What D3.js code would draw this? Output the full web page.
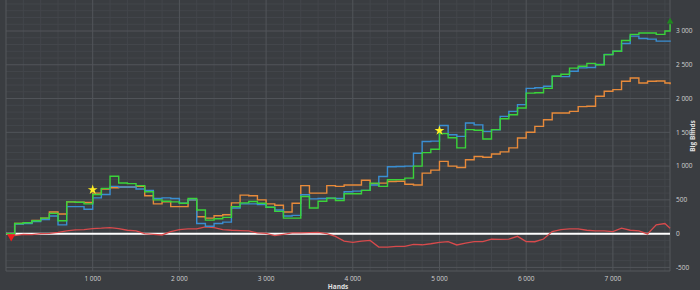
<!DOCTYPE html>
<html><head><meta charset="utf-8">
<script src="https://cdn.jsdelivr.net/npm/d3@7"></script>
<style>
html,body{margin:0;padding:0;background:#3a3d41;overflow:hidden;}
svg{display:block;}
text{font-family:"Open Sans","DejaVu Sans",sans-serif;}
</style></head>
<body><svg id="c" width="700" height="290"></svg>
<script>
// hands sampled every 100, last point 7660
const hands = [0,100,200,300,400,500,600,700,800,900,1000,1100,1200,1300,1400,1500,1600,1700,1800,1900,2000,2100,2200,2300,2400,2500,2600,2700,2800,2900,3000,3100,3200,3300,3400,3500,3600,3700,3800,3900,4000,4100,4200,4300,4400,4500,4600,4700,4800,4900,5000,5100,5200,5300,5400,5500,5600,5700,5800,5900,6000,6100,6200,6300,6400,6500,6600,6700,6800,6900,7000,7100,7200,7300,7400,7500,7600,7660];
const netWon = [0,150,160,190,230,300,190,470,465,440,580,670,850,750,740,710,620,500,480,470,450,520,350,200,220,240,400,455,475,450,390,330,230,230,550,380,480,525,490,590,590,640,748,700,797,800,822,1000,1200,1250,1480,1420,1270,1540,1530,1400,1540,1700,1760,1860,2080,2085,2150,2330,2360,2450,2478,2520,2500,2650,2700,2860,2950,2970,2970,2950,3000,3100];
const allInEV = [0,140,150,180,210,260,130,400,400,360,530,580,700,690,690,660,640,520,530,520,450,500,150,110,150,170,380,440,440,430,390,350,260,270,575,515,520,525,520,620,630,640,720,845,990,994,1000,1190,1365,1370,1600,1465,1440,1638,1610,1514,1539,1736,1810,1910,2150,2160,2182,2330,2325,2404,2454,2460,2503,2652,2700,2815,2924,2890,2880,2850,2850,2860];
const withoutShowdown = [0,150,160,195,230,320,290,470,465,460,600,660,680,690,690,700,560,440,470,400,400,500,250,230,265,280,455,570,560,500,440,420,320,450,710,600,600,710,700,720,720,790,740,748,772,775,730,720,896,940,1070,1000,980,1094,1143,1130,1180,1210,1270,1416,1500,1588,1687,1786,1786,1810,1880,1885,2033,2107,2132,2256,2305,2230,2256,2260,2230,2210];
const withShowdown = [0,-30,-10,-15,0,5,20,40,55,60,75,80,90,75,50,40,0,-10,-20,30,60,70,70,100,90,60,50,45,40,10,5,-30,-10,10,10,15,20,0,-40,-110,-130,-110,-100,-200,-200,-190,-190,-160,-165,-150,-130,-118,-168,-140,-118,-118,-80,-85,-80,-40,-118,-120,-80,30,60,70,70,50,40,40,30,80,50,40,-5,130,150,80];
const xTicks = [1000,2000,3000,4000,5000,6000,7000];
const yTicks = [-500,0,500,1000,1500,2000,2500,3000];
const starHands = [1000,5000];
const starValues = [650,1525];
const startMarker = [60,-45];
const endMarker = [7660,3140];
const seriesColors = {allInEV:"#3a8ed2", withoutShowdown:"#e88a3a", netWon:"#3ad33a", withShowdown:"#d84a4c"};

const svg = d3.select("#c");
const L = 6, R = 670, T = 0, B = 271;
const x = d3.scaleLinear().domain([0,7660]).range([6,670.1]);
const y = d3.scaleLinear().domain([-500,3000]).range([267.4,31.0]);

const fmt = v => d3.format(",")(v).replace(/,/g," ").replace("−","-");

// minor grid
const g = svg.append("g");
d3.range(200,7660,200).filter(v=>v%1000!==0).forEach(v=>{
  g.append("line").attr("x1",x(v)).attr("x2",x(v)).attr("y1",T).attr("y2",B).attr("stroke","#43464b").attr("stroke-width",1);
});
d3.range(-500,3500,100).filter(v=>v%500!==0).forEach(v=>{
  g.append("line").attr("x1",L).attr("x2",R).attr("y1",y(v)).attr("y2",y(v)).attr("stroke","#43464b").attr("stroke-width",1);
});
// major grid
xTicks.forEach(v=>{
  g.append("line").attr("x1",x(v)).attr("x2",x(v)).attr("y1",T).attr("y2",B).attr("stroke","#52555a").attr("stroke-width",1);
});
yTicks.forEach(v=>{
  g.append("line").attr("x1",L).attr("x2",R).attr("y1",y(v)).attr("y2",y(v)).attr("stroke","#52555a").attr("stroke-width",1);
});
// borders
g.append("line").attr("x1",L).attr("x2",L).attr("y1",T).attr("y2",B).attr("stroke","#55585d");
g.append("line").attr("x1",R).attr("x2",R).attr("y1",T).attr("y2",B).attr("stroke","#55585d");
g.append("line").attr("x1",L).attr("x2",R).attr("y1",B).attr("y2",B).attr("stroke","#55585d");

// zero line
svg.append("line").attr("x1",L).attr("x2",R).attr("y1",y(0)).attr("y2",y(0)).attr("stroke","#ffffff").attr("stroke-width",2);

const mk = (arr) => hands.map((h,i)=>[h,arr[i]]);
const stepLine = d3.line().x(d=>x(d[0])).y(d=>y(d[1])).curve(d3.curveStepAfter);
const linLine = d3.line().x(d=>x(d[0])).y(d=>y(d[1]));

svg.append("path").datum(mk(withShowdown)).attr("d",linLine).attr("fill","none").attr("stroke",seriesColors.withShowdown).attr("stroke-width",1.3);
svg.append("path").datum(mk(withoutShowdown)).attr("d",stepLine).attr("fill","none").attr("stroke",seriesColors.withoutShowdown).attr("stroke-width",1.4);
svg.append("path").datum(mk(allInEV)).attr("d",stepLine).attr("fill","none").attr("stroke",seriesColors.allInEV).attr("stroke-width",1.4);
svg.append("path").datum(mk(netWon)).attr("d",stepLine).attr("fill","none").attr("stroke",seriesColors.netWon).attr("stroke-width",1.4);

// markers
svg.append("path").attr("d",d3.symbol().type(d3.symbolTriangle).size(30)())
  .attr("transform",`translate(${x(startMarker[0])},${y(startMarker[1])}) rotate(180)`).attr("fill","#ee1c1c");
svg.append("path").attr("d",d3.symbol().type(d3.symbolTriangle).size(18)())
  .attr("transform",`translate(${x(endMarker[0])},${y(endMarker[1])})`).attr("fill","#1e8a1e");
starHands.forEach((h,i)=>{
  svg.append("path").attr("d",d3.symbol().type(d3.symbolStar).size(30)())
    .attr("transform",`translate(${x(h)},${y(starValues[i])})`).attr("fill","#ffee22");
});

// axes labels
xTicks.forEach(v=>{
  svg.append("text").attr("x",x(v)).attr("y",281).attr("text-anchor","middle").attr("font-size",6.5).attr("fill","#d0d0d0").text(fmt(v));
});
yTicks.forEach(v=>{
  svg.append("text").attr("x",676).attr("y",y(v)+2.3).attr("text-anchor","start").attr("font-size",6.5).attr("fill","#d0d0d0").text(fmt(v));
});
svg.append("text").attr("transform","translate(695,136) rotate(-90)").attr("text-anchor","middle").attr("font-size",6.5).attr("font-weight","bold").attr("fill","#e0e0e0").text("Big Blinds");
svg.append("text").attr("x",338).attr("y",289).attr("text-anchor","middle").attr("font-size",6.5).attr("font-weight","bold").attr("fill","#e0e0e0").text("Hands");
</script></body></html>
